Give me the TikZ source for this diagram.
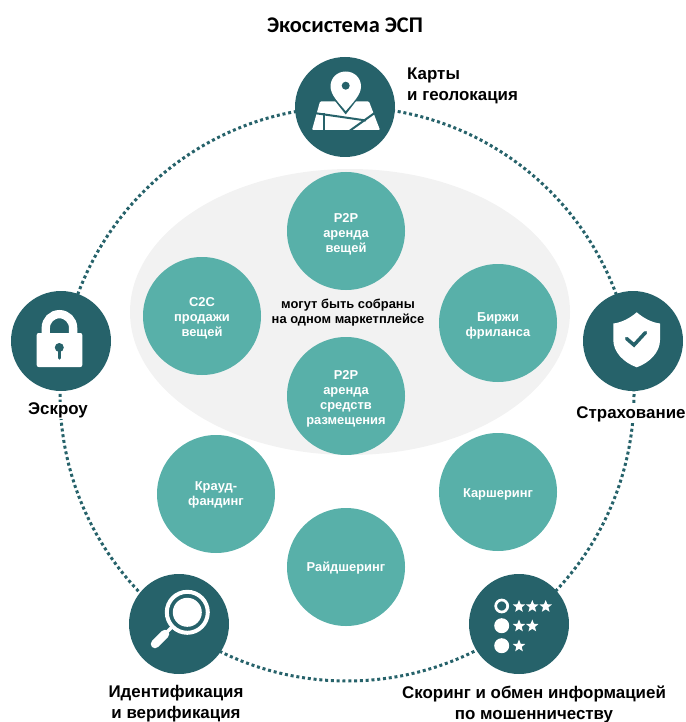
\documentclass[tikz,border=0pt]{standalone}
\usepackage{fontspec}
\setmainfont{Liberation Sans}
\newfontfamily\titlefont{Carlito}
\usetikzlibrary{shapes.geometric}

\definecolor{darkteal}{HTML}{26626A}
\definecolor{lightteal}{HTML}{58B0A9}
\definecolor{ovalgray}{HTML}{F2F2F2}

\tikzset{
    bigdisc/.style={circle, fill=darkteal, minimum size=100pt, inner sep=0pt},
    smalldisc/.style={circle, fill=lightteal, minimum size=118pt, inner sep=0pt},
    disctext/.style={align=center, inner sep=0pt, yshift=-2pt, text=white,
        font=\bfseries\fontsize{12.9}{15}\selectfont},
    outerlabel/.style={align=center, inner sep=1pt, text=black, font=\bfseries\fontsize{16.9}{21}\selectfont},
    ratestar/.style={star, star points=5, star point ratio=2.3, fill=white, minimum size=13pt, inner sep=0pt},
    ratedot/.style={circle, fill=white, minimum size=15pt, inner sep=0pt},
}

\begin{document}
\begin{tikzpicture}[x=1pt, y=-1pt]
    \useasboundingbox (0,0) rectangle (685,722);

    % Oval behind the marketplace group
    \fill[ovalgray] (350,312) ellipse [x radius=220, y radius=143];

    % Dotted ring
    \coordinate (ringcentre) at (347,394);
    \draw[darkteal, line width=3pt, dash pattern=on 3pt off 2.8pt] (ringcentre) circle [radius=287];

    % Title
    \node (title) at (345,25) {\titlefont\bfseries\fontsize{22.4}{26}\selectfont Экосистема ЭСП};

    % Outer discs
    \node[bigdisc] (maps) at (345,107) {};
    \node[bigdisc] (escrow) at (61,341) {};
    \node[bigdisc] (insurance) at (633,341) {};
    \node[bigdisc] (identity) at (179,624) {};
    \node[bigdisc] (scoring) at (519,624) {};

    % Outer labels
    \node[outerlabel, align=left, anchor=west] (mapslabel) at (406,86) {Карты\\и геолокация};
    \node[outerlabel, fill=white] (escrowlabel) at (58,410.5) {Эскроу};
    \node[outerlabel, fill=white] (insurancelabel) at (631,414) {Страхование};
    \node[outerlabel, fill=white] (identitylabel) at (176,704) {Идентификация\\и верификация};
    \node[outerlabel, fill=white] (scoringlabel) at (534,704) {Скоринг и обмен информацией\\по мошенничеству};

    % Inner discs
    \node[smalldisc] (rentthings) at (346,231) {};
    \node[smalldisc] (sellthings) at (202,316) {};
    \node[smalldisc] (freelance) at (498,323) {};
    \node[smalldisc] (rentplaces) at (346,396) {};
    \node[smalldisc] (crowd) at (216,494) {};
    \node[smalldisc] (carshare) at (498,492) {};
    \node[smalldisc] (rideshare) at (346,567) {};

    % Inner disc texts
    \node[disctext] (rentthingstext) at (346,232) {P2P\\аренда\\вещей};
    \node[disctext] (sellthingstext) at (202,316) {C2C\\продажи\\вещей};
    \node[disctext] (freelancetext) at (498,324) {Биржи\\фриланса};
    \node[disctext] (rentplacestext) at (346,397) {P2P\\аренда\\средств\\размещения};
    \node[disctext] (crowdtext) at (216,493) {Крауд-\\фандинг};
    \node[disctext] (carsharetext) at (498,492) {Каршеринг};
    \node[disctext] (ridesharetext) at (346,566) {Райдшеринг};

    \node[align=center, text=black, font=\bfseries\fontsize{12.9}{15}\selectfont] (marketnote) at (348,312.5)
        {могут быть собраны\\на одном маркетплейсе};

    % Map icon
    \fill[white, rounded corners=1pt] (320,101.5) -- (369,101.5) -- (380,130) -- (312,130) -- cycle;
    \draw[darkteal, line width=2pt] (314,113) -- (335,116) -- (366,120.5);
    \draw[darkteal, line width=2pt] (323.5,113) -- (323.5,131);
    \draw[darkteal, line width=2pt] (348,132) -- (376,112);
    \fill[darkteal] (345.7,114.5) -- (328,92) -- (328,70) -- (363,70) -- (363,92) -- cycle;
    \fill[white] (345.7,111) .. controls (339,103) and (330.5,95) .. (330.5,86.5)
        .. controls (330.5,78) and (337,71.5) .. (345.7,71.5)
        .. controls (354.5,71.5) and (361,78) .. (361,86.5)
        .. controls (361,95) and (352.5,103) .. (345.7,111) -- cycle;
    \fill[darkteal] (345.7,85.7) circle [radius=4];

    % Lock icon
    \draw[white, line width=8.3pt] (45.8,335) -- (45.8,327.8) arc [start angle=180, end angle=360, radius=13.65] -- (73.1,335);
    \fill[white, rounded corners=2pt] (36.7,333) rectangle (82.3,367);
    \fill[darkteal] (59.3,347.5) circle [radius=4.5];
    \draw[darkteal, line width=3.5pt, line cap=round] (59.3,348) -- (59.3,358);

    % Shield icon
    \fill[white] (636.7,312.3) .. controls (644,318.5) and (652,322.5) .. (660,323.5)
        -- (660,340) .. controls (660,352) and (650,362.5) .. (636.7,367.3)
        .. controls (623.5,362.5) and (613.3,352) .. (613.3,340) -- (613.3,323.5)
        .. controls (621.5,322.5) and (629.5,318.5) .. (636.7,312.3) -- cycle;
    \draw[darkteal, line width=3.5pt, line cap=round] (626.5,338.5) -- (634,345) -- (645.5,332.5);

    % Magnifier icon
    \draw[white, line width=4pt] (187.3,612.3) circle [radius=20.5];
    \fill[white] (187.3,612.3) circle [radius=14.5];
    \draw[white, line width=3.5pt] (172,627) -- (166,633);
    \draw[white, line width=8.5pt, line cap=round] (165,634) -- (155,644);

    % Rating icon
    \draw[white, line width=2.7pt] (501.7,606) circle [radius=6];
    \node[ratedot] (dottwo) at (501.7,625.7) {};
    \node[ratedot] (dotthree) at (501.7,645.7) {};
    \node[ratestar] (staronea) at (519,606.5) {};
    \node[ratestar] (staroneb) at (532.3,606.5) {};
    \node[ratestar] (staronec) at (545.7,606.5) {};
    \node[ratestar] (startwoa) at (519,626) {};
    \node[ratestar] (startwob) at (532.3,626) {};
    \node[ratestar] (starthree) at (519,646) {};
\end{tikzpicture}
\end{document}
